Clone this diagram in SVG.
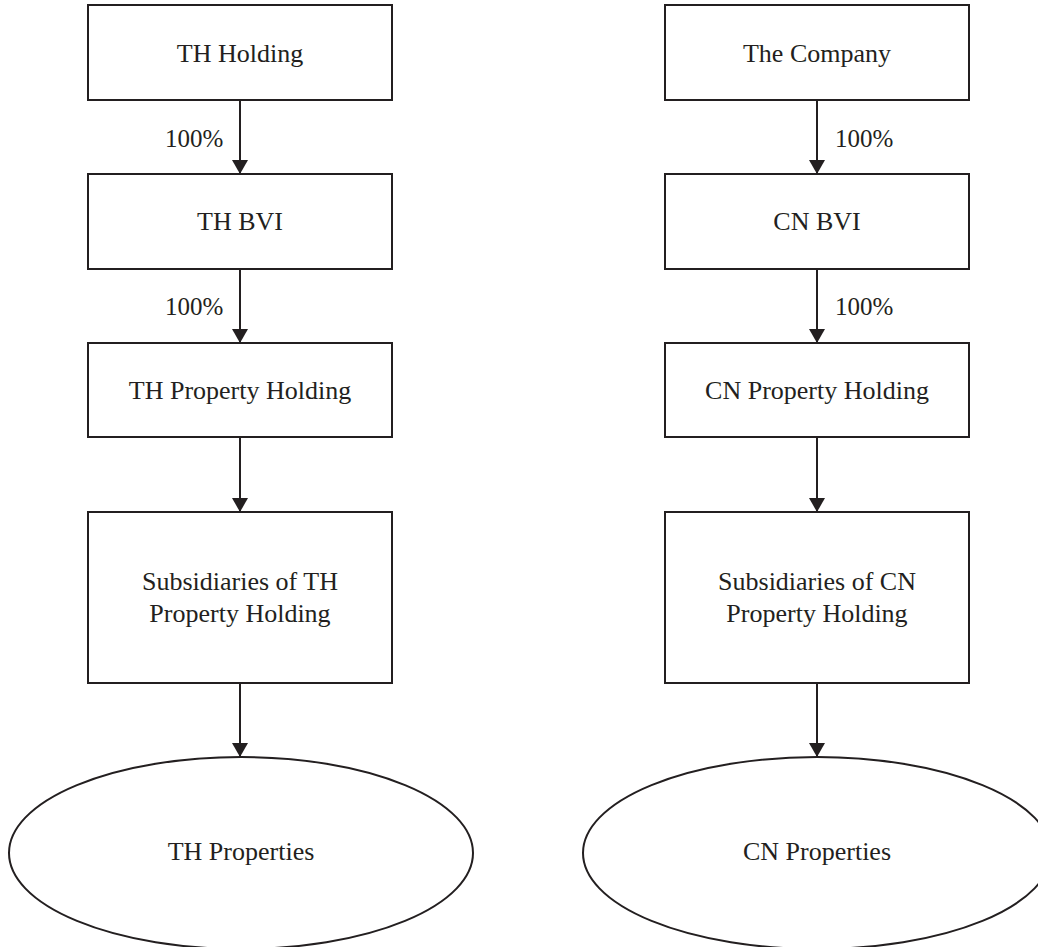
<svg xmlns="http://www.w3.org/2000/svg" width="1038" height="947" viewBox="0 0 1038 947">
<defs>
<style>
.box{fill:#fff;stroke:#231f20;stroke-width:2}
.t{font-family:"Liberation Serif","Times New Roman",serif;font-size:26px;fill:#231f20;text-anchor:middle}
.lbl{font-family:"Liberation Serif","Times New Roman",serif;font-size:25px;fill:#231f20}
.c{stroke:#231f20;stroke-width:2;fill:none;marker-end:url(#ah)}
</style>
<marker id="ah" markerUnits="userSpaceOnUse" markerWidth="14" markerHeight="16" refX="14" refY="8" orient="auto" viewBox="0 0 14 16">
<path d="M0,0 L14,8 L0,16 Z" fill="#231f20"/>
</marker>
</defs>
<rect width="1038" height="947" fill="#fff"/>
<g id="connectors">
<line class="c" x1="240" y1="100" x2="240" y2="174"/>
<line class="c" x1="240" y1="269" x2="240" y2="343"/>
<line class="c" x1="240" y1="437" x2="240" y2="512"/>
<line class="c" x1="240" y1="683" x2="240" y2="757"/>
<line class="c" x1="817" y1="100" x2="817" y2="174"/>
<line class="c" x1="817" y1="269" x2="817" y2="343"/>
<line class="c" x1="817" y1="437" x2="817" y2="512"/>
<line class="c" x1="817" y1="683" x2="817" y2="757"/>
<text class="lbl" x="165" y="147">100%</text>
<text class="lbl" x="165" y="315">100%</text>
<text class="lbl" x="835" y="147">100%</text>
<text class="lbl" x="835" y="315">100%</text>
</g>
<g id="th-holding"><rect class="box" x="88" y="5" width="304" height="95"/><text class="t" x="240" y="62">TH Holding</text></g>
<g id="th-bvi"><rect class="box" x="88" y="174" width="304" height="95"/><text class="t" x="240" y="230">TH BVI</text></g>
<g id="th-property-holding"><rect class="box" x="88" y="343" width="304" height="94"/><text class="t" x="240" y="399">TH Property Holding</text></g>
<g id="th-subsidiaries"><rect class="box" x="88" y="512" width="304" height="171"/><text class="t" x="240" y="590">Subsidiaries of TH</text><text class="t" x="240" y="622">Property Holding</text></g>
<g id="th-properties"><ellipse class="box" cx="241" cy="853" rx="232" ry="96"/><text class="t" x="241" y="860">TH Properties</text></g>
<g id="the-company"><rect class="box" x="665" y="5" width="304" height="95"/><text class="t" x="817" y="62">The Company</text></g>
<g id="cn-bvi"><rect class="box" x="665" y="174" width="304" height="95"/><text class="t" x="817" y="230">CN BVI</text></g>
<g id="cn-property-holding"><rect class="box" x="665" y="343" width="304" height="94"/><text class="t" x="817" y="399">CN Property Holding</text></g>
<g id="cn-subsidiaries"><rect class="box" x="665" y="512" width="304" height="171"/><text class="t" x="817" y="590">Subsidiaries of CN</text><text class="t" x="817" y="622">Property Holding</text></g>
<g id="cn-properties"><ellipse class="box" cx="817" cy="853" rx="234" ry="96"/><text class="t" x="817" y="860">CN Properties</text></g>
</svg>
